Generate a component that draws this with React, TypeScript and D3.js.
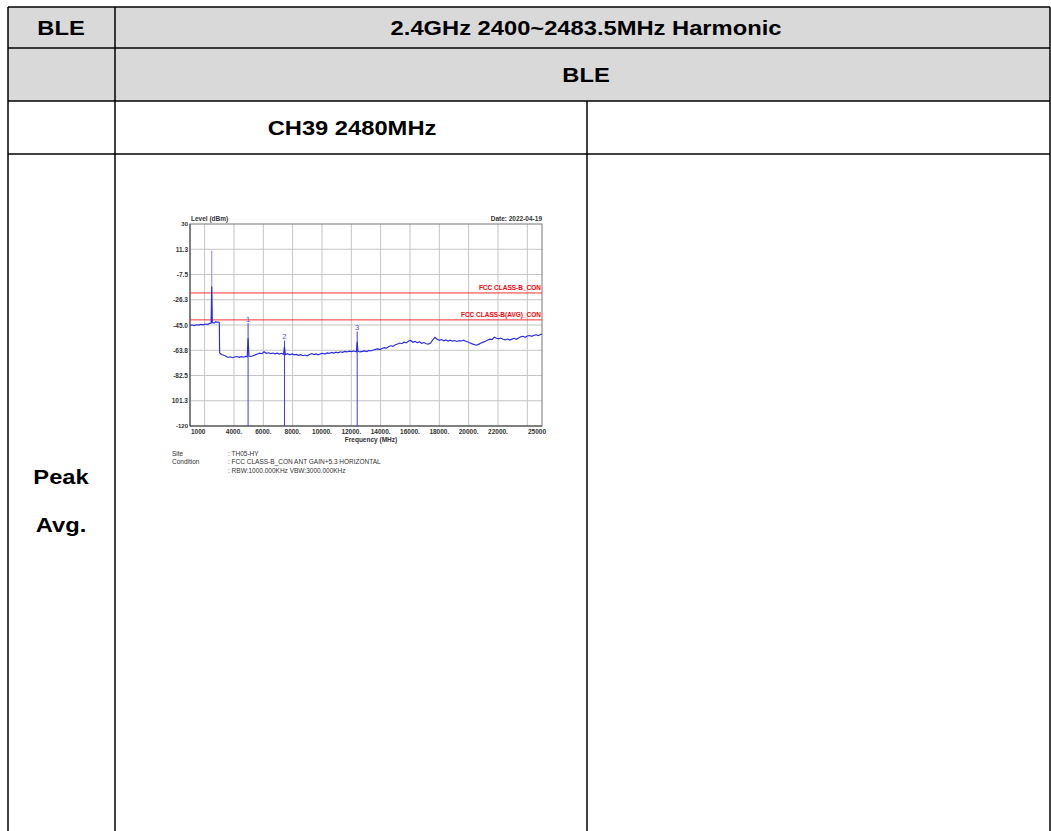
import React from "react";
import * as d3 from "d3";

// ---- data ----
const Y_TICKS = [30, 11.25, -7.5, -26.25, -45, -63.75, -82.5, -101.25, -120];
const Y_TICK_LABELS = ["30", "11.3", "-7.5", "-26.3", "-45.0", "-63.8", "-82.5", "101.3", "-120"];
const X_GRID = [2000, 4000, 6000, 8000, 10000, 12000, 14000, 16000, 18000, 20000, 22000, 24000];
const X_TICKS = [1000, 4000, 6000, 8000, 10000, 12000, 14000, 16000, 18000, 20000, 22000, 25000];
const X_TICK_LABELS = ["1000", "4000.", "6000.", "8000.", "10000.", "12000.", "14000.", "16000.", "18000.", "20000.", "22000.", "25000"];

const LIMITS = [
  { name: "FCC CLASS-B_CON", level: -21.2 },
  { name: "FCC CLASS-B(AVG)_CON", level: -41.2 },
];

const TRACE_FREQ = [
  1000, 1150, 1300, 1450, 1600, 1750, 1900, 2050, 2200, 2350, 2440, 2480, 2520, 2650, 2750, 2850, 2950, 3000,
  3020, 3150, 3300, 3450, 3600, 3750, 3900, 4050, 4200, 4350, 4500, 4650, 4800, 4900, 4960, 5020, 5150, 5300,
  5450, 5600, 5750, 5900, 6050, 6200, 6350, 6500, 6650, 6800, 6950, 7100, 7250, 7380, 7440, 7500, 7650, 7800,
  7950, 8100, 8250, 8400, 8550, 8700, 8850, 9000, 9150, 9300, 9450, 9600, 9750, 9900, 10050, 10200, 10350, 10500,
  10650, 10800, 10950, 11100, 11250, 11400, 11550, 11700, 11850, 12000, 12150, 12350, 12400, 12450, 12600, 12750,
  12900, 13050, 13200, 13350, 13500, 13650, 13800, 13950, 14100, 14250, 14400, 14550, 14700, 14850, 15000, 15150,
  15300, 15450, 15600, 15750, 15900, 16050, 16200, 16350, 16500, 16650, 16800, 16950, 17100, 17250, 17400, 17550,
  17700, 17850, 18000, 18150, 18300, 18450, 18600, 18750, 18900, 19050, 19200, 19350, 19500, 19650, 19800, 19950,
  20100, 20250, 20400, 20550, 20700, 20850, 21000, 21150, 21300, 21450, 21600, 21750, 21900, 22050, 22200, 22350,
  22500, 22650, 22800, 22950, 23100, 23250, 23400, 23550, 23700, 23850, 24000, 24150, 24300, 24450, 24600, 24750,
  24900, 25000,
];
const TRACE_LEVEL = [
  -45.3, -45.0, -45.4, -44.8, -45.1, -44.6, -44.9, -44.3, -44.5, -43.8, -43.5, -16.5, -43.2, -43.6, -42.6, -43.0, -42.8, -43.2,
  -65.8, -66.9, -67.5, -68.2, -69.1, -68.6, -69.3, -68.8, -68.4, -69.0, -68.5, -68.9, -68.3, -68.6, -54.8, -68.0, -68.4, -67.8,
  -67.2, -66.5, -65.9, -66.3, -64.9, -66.0, -65.6, -66.2, -65.8, -66.4, -65.9, -66.6, -66.0, -66.8, -61.0, -67.0, -66.3, -67.1,
  -66.5, -67.2, -66.8, -67.5, -67.0, -67.8, -67.3, -67.9, -66.9, -66.2, -67.0, -66.5, -67.1, -66.4, -66.0, -66.6, -65.7, -66.1,
  -65.4, -65.9, -65.2, -65.7, -64.9, -65.3, -64.6, -65.0, -64.4, -64.8, -64.3, -64.9, -57.4, -64.5, -65.0, -64.6,
  -64.2, -64.7, -63.9, -64.3, -63.6, -63.1, -62.7, -63.2, -62.4, -61.8, -62.2, -61.0, -60.4, -60.9, -59.7, -59.1,
  -58.4, -58.9, -57.6, -58.3, -56.9, -56.5, -57.8, -57.2, -58.1, -57.5, -58.6, -58.0, -58.9, -59.2, -58.4, -56.0,
  -54.2, -55.6, -56.4, -55.8, -56.7, -56.1, -56.9, -56.3, -57.0, -56.5, -57.2, -56.6, -56.9, -56.3, -57.1, -57.6,
  -58.3, -59.0, -59.6, -60.0, -59.2, -58.4, -57.7, -57.0, -56.2, -55.5, -55.9, -54.0, -54.8, -55.3, -54.7, -55.6,
  -56.0, -55.4, -56.2, -55.5, -54.9, -55.6, -54.6, -53.8, -53.4, -54.1, -53.2, -52.8, -53.4, -52.6, -52.3, -52.9,
  -52.0, -51.8,
];
// max-hold spike at fundamental
const MAX_SPIKE = { freq: 2480, base: -43.5, top: 10.2 };

const MARKER_IDS = ["1", "2", "3"];
const MARKER_FREQ = [4960, 7440, 12400];
const MARKER_LEVEL = [-43.6, -56.6, -49.8];

const INFO_LABELS = ["Site", "Condition", ""];
const INFO_VALUES = [": TH05-HY", ": FCC CLASS-B_CON ANT GAIN+5.3 HORIZONTAL", ": RBW:1000.000KHz VBW:3000.000KHz"];

const HEADER_CELLS = [
  { text: "BLE", cx: 61, cy: 28 },
  { text: "2.4GHz 2400~2483.5MHz Harmonic", cx: 586, cy: 28 },
  { text: "BLE", cx: 586, cy: 75 },
  { text: "CH39 2480MHz", cx: 352, cy: 128 },
  { text: "Peak", cx: 61, cy: 477 },
  { text: "Avg.", cx: 61, cy: 525 },
];

export default function App() {
  const W = 1051, H = 831;
  const x = d3.scaleLinear().domain([1000, 25000]).range([190, 542]);
  const y = d3.scaleLinear().domain([-120, 30]).range([426, 224]);
  const pts: [number, number][] = TRACE_FREQ.map((f, i) => [f, TRACE_LEVEL[i]]);
  const line = d3.line<[number, number]>().x((d) => x(d[0])).y((d) => y(d[1]));

  const font = "Arial, 'Liberation Sans', sans-serif";
  const tiny = { fontFamily: font, fontSize: 6.5, fontWeight: 700, fill: "#333" } as const;
  const border = "#000";
  const bw = 1.5;
  const tL = 8, tR = 1050, c1 = 115, c2 = 587;
  const r0 = 7, r1 = 48, r2 = 101, r3 = 154;

  return (
    <svg width={W} height={H} style={{ position: "absolute", left: 0, top: 0, background: "#fff" }}>
      {/* table backgrounds */}
      <rect x={tL} y={r0} width={tR - tL} height={r2 - r0} fill="#d9d9d9" />
      {/* table lines */}
      <g stroke={border} strokeWidth={bw}>
        <line x1={tL} x2={tR} y1={r0} y2={r0} />
        <line x1={tL} x2={tR} y1={r1} y2={r1} />
        <line x1={tL} x2={tR} y1={r2} y2={r2} />
        <line x1={tL} x2={tR} y1={r3} y2={r3} />
        <line x1={tL} x2={tL} y1={r0} y2={H} />
        <line x1={c1} x2={c1} y1={r0} y2={H} />
        <line x1={c2} x2={c2} y1={r2} y2={H} />
        <line x1={tR} x2={tR} y1={r0} y2={H} />
      </g>
      {HEADER_CELLS.map((c, i) => (
        <text key={"h" + i} transform={`translate(${c.cx},${c.cy}) scale(1.13,1)`} x={0} y={0}
          textAnchor="middle" dominantBaseline="central"
          style={{ fontFamily: font, fontWeight: 700, fontSize: 21 }} fill="#000">{c.text}</text>
      ))}

      {/* chart */}
      <g>
        {Y_TICKS.slice(1, -1).map((t) => (
          <line key={"hg" + t} x1={190} x2={542} y1={y(t)} y2={y(t)} stroke="#c4c4c4" strokeWidth={1} />
        ))}
        {X_GRID.map((t) => (
          <line key={"vg" + t} x1={x(t)} x2={x(t)} y1={224} y2={426} stroke="#c4c4c4" strokeWidth={1} />
        ))}
        <rect x={190} y={224} width={352} height={202} fill="none" stroke="#777" strokeWidth={1} />
        <line x1={190} x2={190} y1={224} y2={426} stroke="#444" strokeWidth={1} />
        <line x1={190} x2={542} y1={426} y2={426} stroke="#444" strokeWidth={1} />

        {LIMITS.map((l) => (
          <g key={l.name}>
            <line x1={190} x2={542} y1={y(l.level)} y2={y(l.level)} stroke="#ff3030" strokeWidth={1} />
            <text x={541} y={y(l.level) - 2.5} textAnchor="end" style={{ ...tiny, fill: "#ff0000" }}>{l.name}</text>
          </g>
        ))}

        {/* markers */}
        {MARKER_FREQ.map((f, i) => (
          <g key={"m" + i}>
            <line x1={x(f)} x2={x(f)} y1={y(MARKER_LEVEL[i])} y2={426} stroke="#3a3aff" strokeWidth={1} />
            <text x={x(f)} y={y(MARKER_LEVEL[i]) - 1.5} textAnchor="middle"
              style={{ fontFamily: font, fontSize: 7.5, fill: "#4a4aff" }}>{MARKER_IDS[i]}</text>
          </g>
        ))}

        <line x1={x(MAX_SPIKE.freq)} x2={x(MAX_SPIKE.freq)} y1={y(MAX_SPIKE.base)} y2={y(MAX_SPIKE.top)}
          stroke="#9a9aff" strokeWidth={1.2} />
        <path d={line(pts) || ""} fill="none" stroke="#2a2ae8" strokeWidth={1.15} />

        {/* y labels */}
        {Y_TICKS.map((t, i) => (
          <text key={"yl" + t} x={188} y={y(t)} textAnchor="end" dominantBaseline="central"
            style={{ ...tiny, fontSize: i === 0 || i === Y_TICKS.length - 1 ? 6 : 6.5 }}>{Y_TICK_LABELS[i]}</text>
        ))}
        {/* x labels */}
        {X_TICKS.map((t, i) => (
          <text key={"xl" + t} x={i === 0 ? 191 : i === X_TICKS.length - 1 ? 546 : x(t)} y={431}
            textAnchor={i === 0 ? "start" : i === X_TICKS.length - 1 ? "end" : "middle"}
            dominantBaseline="central" style={tiny}>{X_TICK_LABELS[i]}</text>
        ))}
        <text x={371} y={441.5} textAnchor="middle" style={tiny}>Frequency (MHz)</text>
        <text x={191} y={221} style={tiny}>Level (dBm)</text>
        <text x={542} y={221} textAnchor="end" style={tiny}>Date: 2022-04-19</text>

        {INFO_VALUES.map((v, i) => (
          <g key={"info" + i} style={{ fontFamily: font, fontSize: 6.5, fill: "#333" }}>
            <text x={172} y={456 + i * 8.3}>{INFO_LABELS[i]}</text>
            <text x={228} y={456 + i * 8.3}>{v}</text>
          </g>
        ))}
      </g>
    </svg>
  );
}
